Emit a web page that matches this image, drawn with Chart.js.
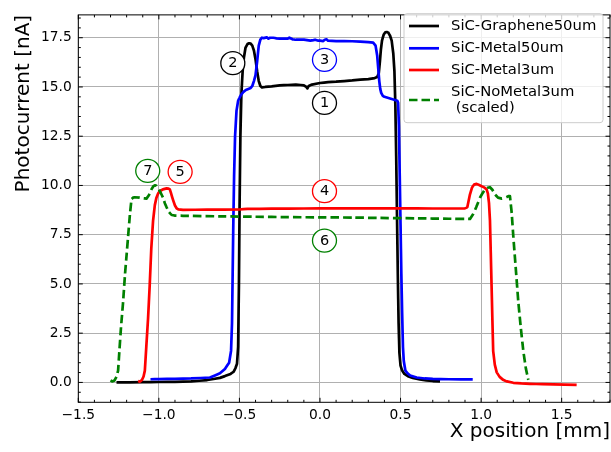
<!DOCTYPE html>
<html><head><meta charset="utf-8">
<script src="https://cdn.jsdelivr.net/npm/chart.js@4/dist/chart.umd.min.js"></script>
<style>html,body{margin:0;padding:0;background:#fff;}canvas{display:block;}</style>
</head><body>
<canvas id="c" width="611" height="452"></canvas>
<script>
// ---------- data ----------
const seriesNames = ['SiC-Graphene50um', 'SiC-Metal50um', 'SiC-Metal3um', 'SiC-NoMetal3um\n (scaled)'];
const seriesColors = ['#000000', '#0000ff', '#ff0000', '#008000'];

const grapheneX = [-1.263,-1.1,-1.0,-0.9,-0.8,-0.7,-0.621,-0.59,-0.555,-0.535,-0.525,-0.515,-0.508,-0.503,-0.499,-0.494,-0.488,-0.48,-0.472,-0.462,-0.45,-0.44,-0.43,-0.42,-0.41,-0.40,-0.39,-0.38,-0.37,-0.36,-0.34,-0.3,-0.25,-0.2,-0.15,-0.12,-0.1,-0.085,-0.078,-0.07,-0.05,0.0,0.05,0.1,0.15,0.2,0.25,0.3,0.34,0.355,0.365,0.372,0.378,0.385,0.395,0.405,0.415,0.425,0.435,0.445,0.455,0.462,0.468,0.473,0.478,0.483,0.488,0.493,0.50,0.51,0.524,0.55,0.576,0.62,0.66,0.70,0.745];
const grapheneY = [0.0,0.01,0.02,0.03,0.05,0.12,0.23,0.32,0.43,0.55,0.72,0.95,1.8,5.0,9.0,12.5,14.6,15.8,16.5,17.0,17.18,17.22,17.2,17.1,16.85,16.4,15.8,15.3,15.05,14.98,15.0,15.03,15.08,15.1,15.12,15.1,15.08,15.0,14.93,15.05,15.12,15.2,15.25,15.27,15.3,15.33,15.37,15.4,15.45,15.5,15.7,16.3,16.9,17.35,17.65,17.77,17.79,17.75,17.6,17.35,16.7,15.8,14.0,11.5,8.5,5.5,3.0,1.5,0.85,0.6,0.43,0.3,0.23,0.15,0.1,0.07,0.05];

const metal50X = [-1.052,-1.0,-0.9,-0.8,-0.683,-0.621,-0.59,-0.564,-0.552,-0.546,-0.542,-0.538,-0.533,-0.527,-0.518,-0.508,-0.50,-0.49,-0.475,-0.46,-0.445,-0.43,-0.42,-0.41,-0.40,-0.39,-0.38,-0.37,-0.36,-0.35,-0.33,-0.32,-0.31,-0.29,-0.27,-0.25,-0.22,-0.2,-0.19,-0.17,-0.15,-0.1,-0.06,-0.04,-0.03,-0.01,0.0,0.02,0.03,0.04,0.05,0.1,0.15,0.2,0.25,0.3,0.33,0.345,0.355,0.362,0.368,0.374,0.38,0.39,0.40,0.42,0.44,0.46,0.48,0.485,0.49,0.495,0.50,0.505,0.51,0.515,0.52,0.53,0.545,0.56,0.6,0.65,0.7,0.8,0.948];
const metal50Y = [0.16,0.17,0.18,0.2,0.25,0.46,0.68,1.0,1.6,3.0,5.5,8.0,10.5,12.5,13.8,14.3,14.45,14.6,14.75,14.85,14.9,14.95,15.05,15.3,15.6,16.3,17.1,17.4,17.5,17.48,17.52,17.45,17.5,17.5,17.47,17.45,17.45,17.45,17.5,17.42,17.4,17.4,17.35,17.38,17.4,17.35,17.35,17.33,17.4,17.42,17.35,17.33,17.33,17.32,17.3,17.28,17.25,17.1,16.6,15.9,15.3,14.9,14.7,14.55,14.5,14.45,14.4,14.35,14.3,14.2,13.0,10.5,8.0,5.5,3.5,1.8,1.1,0.6,0.45,0.35,0.25,0.2,0.18,0.16,0.15];

const metal3X = [-1.129,-1.118,-1.105,-1.095,-1.087,-1.078,-1.067,-1.057,-1.047,-1.036,-1.025,-1.015,-1.004,-0.994,-0.975,-0.952,-0.94,-0.932,-0.925,-0.917,-0.91,-0.9,-0.89,-0.879,-0.85,-0.7,-0.5,-0.45,-0.3,-0.1,0.1,0.3,0.5,0.7,0.85,0.9,0.914,0.922,0.931,0.944,0.956,0.972,0.988,1.003,1.02,1.034,1.042,1.049,1.055,1.06,1.065,1.07,1.075,1.085,1.097,1.115,1.137,1.16,1.2,1.25,1.303,1.38,1.448,1.52,1.593];
const metal3Y = [0.07,0.04,0.12,0.3,0.6,1.8,3.25,4.9,6.8,8.2,9.0,9.38,9.6,9.71,9.8,9.85,9.84,9.8,9.62,9.4,9.22,8.98,8.84,8.78,8.76,8.77,8.78,8.81,8.82,8.83,8.84,8.84,8.84,8.83,8.83,8.84,8.88,9.2,9.55,9.9,10.04,10.08,10.02,9.96,9.9,9.8,9.6,9.1,8.22,6.6,4.9,3.2,1.59,0.9,0.51,0.28,0.13,0.05,-0.02,-0.05,-0.07,-0.09,-0.1,-0.11,-0.13];

const noMetal3X = [-1.30,-1.29,-1.275,-1.262,-1.253,-1.245,-1.235,-1.222,-1.21,-1.2,-1.191,-1.18,-1.17,-1.16,-1.15,-1.12,-1.1,-1.077,-1.062,-1.046,-1.035,-1.025,-1.015,-1.005,-0.99,-0.974,-0.963,-0.952,-0.937,-0.921,-0.9,-0.85,-0.6,-0.4,-0.2,0.0,0.2,0.372,0.6,0.8,0.931,0.951,0.97,0.993,1.01,1.024,1.04,1.055,1.07,1.086,1.105,1.128,1.145,1.159,1.172,1.179,1.19,1.2,1.215,1.231,1.246,1.262,1.278,1.293];
const noMetal3Y = [0.1,0.05,0.1,0.3,0.6,1.6,2.8,4.08,5.5,6.5,7.4,8.5,9.3,9.38,9.4,9.38,9.35,9.33,9.5,9.8,9.95,10.01,9.98,9.88,9.65,9.38,9.1,8.89,8.65,8.5,8.47,8.46,8.43,8.41,8.39,8.38,8.37,8.35,8.33,8.31,8.3,8.55,8.9,9.38,9.62,9.8,9.88,9.91,9.78,9.55,9.38,9.33,9.36,9.41,9.46,9.46,8.6,7.4,5.8,4.08,2.8,1.59,0.7,0.13];

const xTicks = [-1.5,-1.0,-0.5,0.0,0.5,1.0,1.5];
const yTicks = [0.0,2.5,5.0,7.5,10.0,12.5,15.0,17.5];
const xMinorStep = 0.1, yMinorStep = 0.5;

const annoLabels = ['1','2','3','4','5','6','7'];
const annoX = [0.028,-0.541,0.028,0.028,-0.868,0.028,-1.069];
const annoY = [14.19,16.21,16.38,9.71,10.69,7.2,10.74];
const annoColors = ['#000000','#000000','#0000ff','#ff0000','#ff0000','#008000','#008000'];

// ---------- helpers ----------
const pts = (xs, ys) => xs.map((x, i) => ({x, y: ys[i]}));
const fmt = v => v.toFixed(1).replace('-', '\u2212');
const FONT = "'DejaVu Sans', sans-serif";
Chart.defaults.font.family = FONT;
Chart.defaults.color = '#000';
const LW = 2.7;

const framePlugin = {
  id: 'frame',
  afterDatasetsDraw(chart) {
    const {ctx, chartArea: a, scales: {x, y}} = chart;
    ctx.save();
    ctx.strokeStyle = '#000';
    ctx.lineWidth = 1;
    const seg = (x1, y1, x2, y2) => { ctx.beginPath(); ctx.moveTo(x1, y1); ctx.lineTo(x2, y2); ctx.stroke(); };
    for (let k = Math.ceil(x.min / xMinorStep - 1e-6); k * xMinorStep <= x.max + 1e-9; k++) {
      const v = k * xMinorStep;
      const major = xTicks.some(t => Math.abs(t - v) < 1e-6);
      const len = major ? 4.5 : 2.5;
      const p = x.getPixelForValue(v);
      seg(p, a.bottom, p, a.bottom - len);
      seg(p, a.top, p, a.top + len);
    }
    for (let k = Math.ceil(y.min / yMinorStep - 1e-6); k * yMinorStep <= y.max + 1e-9; k++) {
      const v = k * yMinorStep;
      const major = yTicks.some(t => Math.abs(t - v) < 1e-6);
      const len = major ? 4.5 : 2.5;
      const p = y.getPixelForValue(v);
      seg(a.left, p, a.left + len, p);
      seg(a.right, p, a.right - len, p);
    }
    ctx.strokeRect(a.left, a.top, a.right - a.left, a.bottom - a.top);
    // annotations
    ctx.font = '14.5px ' + FONT;
    ctx.textAlign = 'center';
    ctx.textBaseline = 'middle';
    annoLabels.forEach((t, i) => {
      const cx = x.getPixelForValue(annoX[i]);
      const cy = y.getPixelForValue(annoY[i]);
      ctx.beginPath();
      ctx.ellipse(cx, cy, 12, 11.5, 0, 0, Math.PI * 2);
      ctx.fillStyle = '#fff';
      ctx.fill();
      ctx.strokeStyle = annoColors[i];
      ctx.lineWidth = 1.3;
      ctx.stroke();
      ctx.fillStyle = '#000';
      ctx.fillText(t, cx, cy + 0.5);
    });
    // legend
    const lx = 404, ly = 13.7, lw = 199, lh = 109;
    ctx.beginPath();
    ctx.roundRect(lx, ly, lw, lh, 3);
    ctx.fillStyle = 'rgba(255,255,255,0.8)';
    ctx.fill();
    ctx.strokeStyle = '#cccccc';
    ctx.lineWidth = 1;
    ctx.stroke();
    const rowY = [26, 48.3, 70, 100];
    ctx.font = '14.8px ' + FONT;
    ctx.textAlign = 'left';
    chart.data.datasets.forEach((ds, i) => {
      ctx.strokeStyle = ds.borderColor;
      ctx.lineWidth = LW;
      ctx.setLineDash(ds.borderDash || []);
      seg(409, rowY[i], 439, rowY[i]);
      ctx.setLineDash([]);
      ctx.fillStyle = '#000';
      const lines = ds.label.split('\n');
      const lineH = 16.6;
      lines.forEach((ln, j) => {
        ctx.fillText(ln, 451, rowY[i] + (j - (lines.length - 1) / 2) * lineH);
      });
    });
    ctx.restore();
  }
};

const names = seriesNames;
new Chart(document.getElementById('c'), {
  type: 'scatter',
  data: {
    datasets: [
      {label: names[0], data: pts(grapheneX, grapheneY), borderColor: seriesColors[0], order: 4},
      {label: names[1], data: pts(metal50X, metal50Y), borderColor: seriesColors[1], order: 3},
      {label: names[2], data: pts(metal3X, metal3Y), borderColor: seriesColors[2], order: 2},
      {label: names[3], data: pts(noMetal3X, noMetal3Y), borderColor: seriesColors[3], borderDash: [8.5, 4], order: 1}
    ].map(d => Object.assign({showLine: true, pointRadius: 0, borderWidth: LW, tension: 0.000001, borderJoinStyle: 'round', fill: false, backgroundColor: d.borderColor}, d))
  },
  options: {
    responsive: false,
    animation: false,
    events: [],
    layout: {padding: {left: 0, right: 1, top: 6.7, bottom: 0}},
    plugins: {legend: {display: false}, tooltip: {enabled: false}},
    scales: {
      x: {
        type: 'linear', min: -1.5, max: 1.8,
        afterBuildTicks: s => { s.ticks = xTicks.map(v => ({value: v})); },
        afterFit: s => { s.height = 49.7; },
        ticks: {callback: v => fmt(v), font: {size: 13.8}, padding: 5, maxRotation: 0, autoSkip: false, color: '#000'},
        grid: {color: '#b0b0b0', lineWidth: 1, drawTicks: false},
        border: {display: false},
        title: {display: true, text: 'X position [mm]', align: 'end', font: {size: 20}, padding: {top: 0, bottom: 8}, color: '#000'}
      },
      y: {
        type: 'linear', min: -1.01, max: 18.66,
        afterBuildTicks: s => { s.ticks = yTicks.map(v => ({value: v})); },
        afterFit: s => { s.width = 78.3; },
        ticks: {callback: v => fmt(v), font: {size: 13.8}, padding: 6.6, autoSkip: false, color: '#000'},
        grid: {color: '#b0b0b0', lineWidth: 1, drawTicks: false},
        border: {display: false},
        title: {display: true, text: 'Photocurrent [nA]', align: 'end', font: {size: 20}, padding: {top: 11.5, bottom: 0}, color: '#000'}
      }
    }
  },
  plugins: [framePlugin]
});
</script>
</body></html>
